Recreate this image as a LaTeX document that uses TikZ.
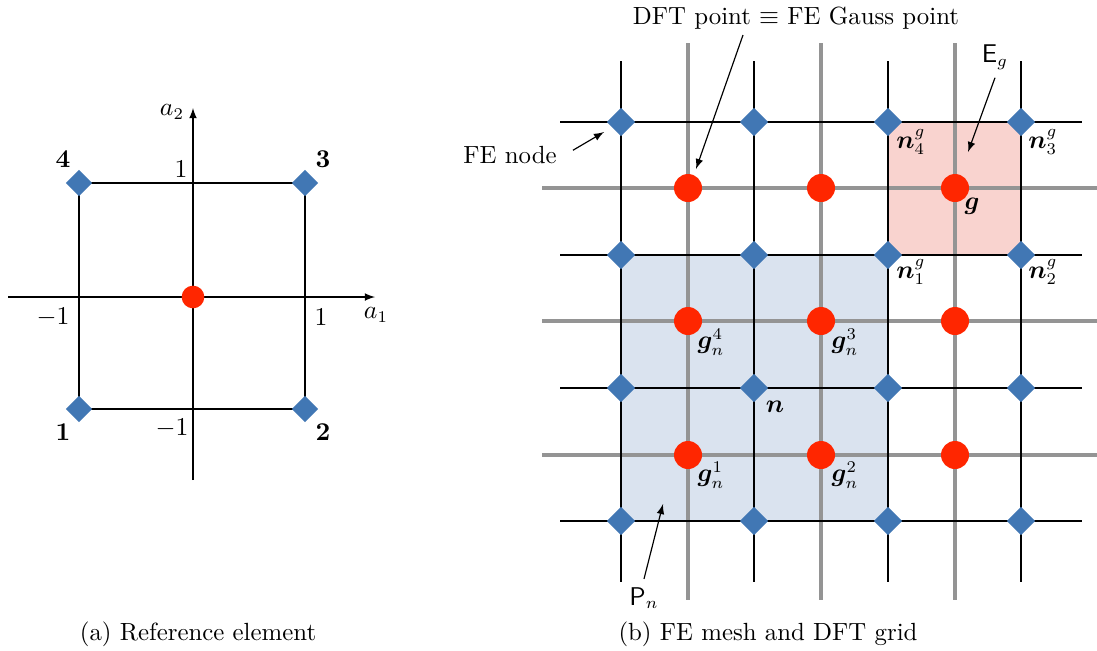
\documentclass[tikz,border=0pt]{standalone}
\usepackage{amsmath,amssymb,bm}
\usetikzlibrary{shapes.geometric}
\definecolor{feblue}{RGB}{65,119,180}
\definecolor{dftred}{RGB}{255,38,0}
\definecolor{patchblue}{RGB}{218,227,239}
\definecolor{elemred}{RGB}{249,211,207}
\tikzset{
	fenode/.style={diamond,fill=feblue,inner sep=0pt,minimum size=0.43cm},
	dftpt/.style={circle,fill=dftred,inner sep=0pt,minimum size=0.42cm},
	meshline/.style={line width=0.75pt},
	gridline/.style={line width=1.3pt,black!42},
}

\begin{document}
\begin{tikzpicture}[x=0.015cm,y=-0.015cm,every node/.style={font=\fontsize{10.6}{13}\selectfont}]
	\useasboundingbox (0,0) rectangle (1097,650);
	\begin{scope}
		\draw[-latex,line width=0.5pt] (8,297) -- (375,297);
		\draw[-latex,line width=0.5pt] (193,480) -- (193,108);
		\draw[line width=1.2pt] (79,183) rectangle (305,409);
		\node[fenode,minimum size=0.4cm] (r1) at (79,409) {};
		\node[fenode,minimum size=0.4cm] (r2) at (305,409) {};
		\node[fenode,minimum size=0.4cm] (r3) at (305,183) {};
		\node[fenode,minimum size=0.4cm] (r4) at (79,183) {};
		\node[dftpt,minimum size=0.34cm] (r0) at (193,297) {};
		\node (ax2) at (172,112) {$a_2$};
		\node (ax1) at (376,315) {$a_1$};
		\node (tp) at (181,169) {$1$};
		\node (lf) at (53,317) {$-1$};
		\node (rt) at (321,317) {$1$};
		\node (bt) at (172,428) {$-1$};
		\node (l1) at (63,432) {$\mathbf{1}$};
		\node (l2) at (323,432) {$\mathbf{2}$};
		\node (l3) at (323,159) {$\mathbf{3}$};
		\node (l4) at (63,159) {$\mathbf{4}$};
		\node (capa) at (198,634) {(a) Reference element};
	\end{scope}
	\begin{scope}
		\fill[patchblue] (621,255) rectangle (888,521);
		\fill[elemred] (888,122) rectangle (1021,255);
		\foreach \x in {688,821,955} \draw[gridline] (\x,43) -- (\x,600);
		\foreach \y in {188,321,455} \draw[gridline] (542,\y) -- (1097,\y);
		\foreach \x in {621,754,888,1021} \draw[meshline] (\x,61) -- (\x,582);
		\foreach \y in {122,255,388,521} \draw[meshline] (560,\y) -- (1082,\y);
		\foreach \x [count=\i] in {621,754,888,1021}
			\foreach \y [count=\j] in {521,388,255,122}
				\node[fenode] (n-\i-\j) at (\x,\y) {};
		\foreach \x [count=\i] in {688,821,955}
			\foreach \y [count=\j] in {455,321,188}
				\node[dftpt] (g-\i-\j) at (\x,\y) {};
		\node (ng4) at (911,142) {$\bm{n}_4^g$};
		\node (ng3) at (1043,142) {$\bm{n}_3^g$};
		\node (ng1) at (911,272) {$\bm{n}_1^g$};
		\node (ng2) at (1043,272) {$\bm{n}_2^g$};
		\node (gg) at (972,206) {$\bm{g}$};
		\node (gn4) at (711,342) {$\bm{g}_n^4$};
		\node (gn3) at (845,342) {$\bm{g}_n^3$};
		\node (gn1) at (711,475) {$\bm{g}_n^1$};
		\node (gn2) at (845,475) {$\bm{g}_n^2$};
		\node (nn) at (775,407) {$\bm{n}$};
		\node (fetxt) at (510,155) {FE node};
		\node (dfttxt) at (796,18) {DFT point $\equiv$ FE Gauss point};
		\node (eg) at (995,57) {$\mathsf{E}_g$};
		\node (pn) at (644,598) {$\mathsf{P}_n$};
		\coordinate (fetip) at (604,132);
		\coordinate (dfttail) at (743,35);
		\coordinate (dfttip) at (696,169);
		\coordinate (egtip) at (968,152);
		\coordinate (pntip) at (663,504);
		\draw[-latex,line width=0.5pt,shorten <=4pt] (fetxt.east) -- (fetip);
		\draw[-latex,line width=0.5pt] (dfttail) -- (dfttip);
		\draw[-latex,line width=0.5pt] (eg.south) -- (egtip);
		\draw[-latex,line width=0.5pt] (pn.north) -- (pntip);
		\node (capb) at (768,634) {(b) FE mesh and DFT grid};
	\end{scope}
\end{tikzpicture}
\end{document}
